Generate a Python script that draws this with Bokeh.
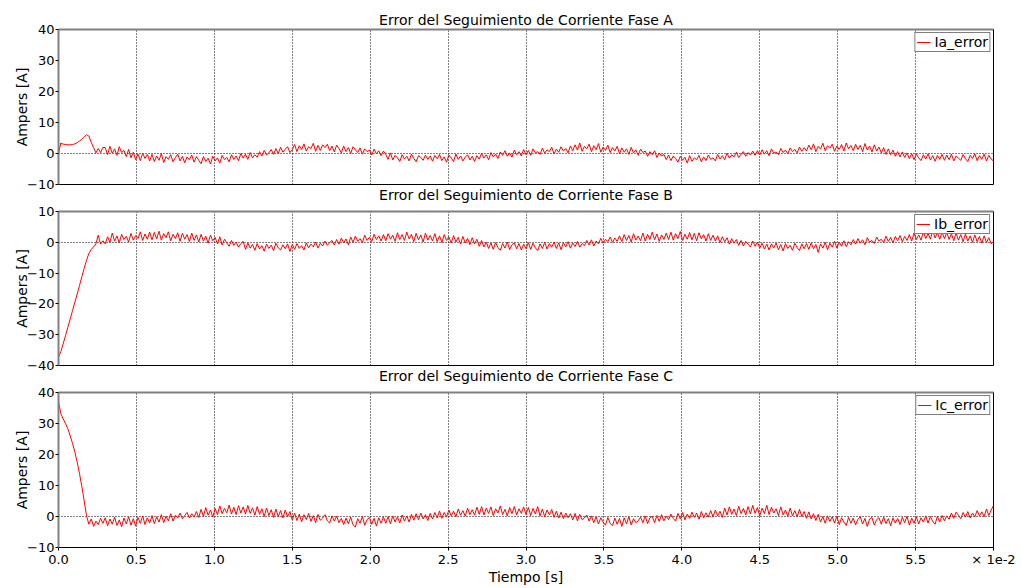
import numpy as np
from bokeh.plotting import figure
from bokeh.layouts import column
from bokeh.models import (Range1d, FixedTicker, LinearAxis, Legend, LegendItem,
                          CustomJSTickFormatter, Grid, Title)
from bokeh.embed import file_html
from bokeh.resources import INLINE

# ---------------- data ----------------
DT = 0.00015  # sample step [s]
x_ticks = [0.0, 0.005, 0.01, 0.015, 0.02, 0.025, 0.03, 0.035, 0.04, 0.045, 0.05, 0.055, 0.06]
y_ticks_ac = [-10, 0, 10, 20, 30, 40]
y_ticks_b = [-40, -30, -20, -10, 0, 10]

titles = ["Error del Seguimiento de Corriente Fase A",
          "Error del Seguimiento de Corriente Fase B",
          "Error del Seguimiento de Corriente Fase C"]
names = ["Ia_error", "Ib_error", "Ic_error"]

ia_error = [
    0, 3.4, 3.0, 2.9, 2.8, 2.8, 2.9, 3.1, 3.5, 4.0, 4.6, 5.3, 6.1, 5.6, 3.6, 1.9, 0.2, 1.6, 0.3, 2.0,
    1.9, -0.4, 2.3, 0.1, 1.5, -0.6, 2.2, 0.3, 1.0, -1.0, 1.3, -1.4, 0.4, -2.0, -0.2, -2.3, 0.1, -1.6, -0.3, -2.4,
    -0.3, -2.6, -0.8, -2.2, 0.0, -2.9, -1.0, -1.9, -0.4, -2.7, -1.3, -0.2, -2.4, -0.9, -3.0, -1.1, -2.0, -0.5, -2.8, -1.0,
    -2.2, -3.3, -1.0, -2.6, -1.5, -3.4, -0.9, -2.4, -1.4, -3.1, -0.6, -2.0, -1.3, -2.7, -0.4, -1.9, -0.8, -2.3, 0.0, -1.5,
    -0.2, -1.9, 0.3, -1.4, -0.4, -1.2, 0.6, -0.8, 1.0, -0.5, 0.2, 1.3, -0.3, 1.6, 0.0, 2.0, 0.4, 1.4, 2.2, 0.3,
    1.2, 2.9, 0.6, 2.5, 1.3, 3.1, 0.8, 2.2, 1.6, 3.3, 0.7, 2.6, 1.0, 2.8, 1.9, 3.0, 0.9, 2.4, 0.5, 2.7,
    1.6, 0.2, 2.4, 0.6, 1.9, 0.0, 2.2, 1.2, 0.3, 1.8, -0.2, 1.5, 0.6, 1.1, -0.5, 1.4, -0.1, 0.9, -0.7, 0.8,
    -0.3, -1.9, 0.2, -2.1, -0.6, -1.4, -2.6, -0.4, -1.8, -0.9, -2.4, -0.2, -1.6, -2.7, -0.7, -1.3, -2.2, -0.5, -1.9, -0.8,
    -2.5, -0.6, -1.7, -0.3, -2.3, -1.1, -2.8, -0.5, -1.4, -2.6, -0.2, -1.9, -0.8, -2.4, -1.2, -0.4, -2.1, -0.9, -2.6, -0.7,
    -1.8, 0.1, -1.5, -0.4, -2.0, 0.3, -1.1, -0.2, -1.6, 0.5, -0.6, 0.9, -0.9, 0.2, -1.2, 1.1, -0.4, 0.6, -0.8, 1.3,
    -0.4, 1.0, -0.6, 1.5, 0.2, 0.6, -0.3, 1.7, 0.1, 1.2, 0.6, 2.0, -0.1, 1.4, 0.4, 2.2, 0.8, 1.6, 0.2, 2.4,
    0.9, 2.8, 1.1, 3.4, 0.7, 2.3, 1.5, 3.0, 0.6, 2.5, 1.2, 3.2, 0.4, 2.1, 1.0, 2.7, 0.3, 1.9, 0.8, 2.3,
    -0.1, 1.8, 0.4, 1.5, -0.3, 2.0, 0.2, 1.2, -0.6, 1.4, 0.3, 0.8, -0.9, 0.6, -0.4, 0.9, -1.3, 0.2, -0.8, -0.3,
    -2.0, -0.5, -2.3, -0.8, -1.6, -2.8, -0.9, -2.2, -1.2, -3.1, -0.7, -2.5, -1.4, -2.0, -0.6, -2.7, -1.1, -2.3, -0.5, -1.9,
    -1.4, -2.4, -0.3, -1.8, -0.7, -2.0, 0.1, -1.5, -0.4, -1.1, 0.4, -1.3, -0.2, 0.6, -0.9, 0.3, -0.5, 0.8, -0.6, 0.9,
    -0.5, 1.2, -0.2, 0.9, -0.7, 1.5, 0.1, 0.5, -0.4, 1.6, 0.3, 1.1, -0.1, 1.8, 0.6, 1.3, 0.2, 2.1, 0.7, 1.9,
    0.8, 2.7, 1.2, 3.1, 0.6, 2.3, 1.4, 3.3, 0.9, 2.5, 1.7, 3.0, 0.7, 2.4, 1.3, 2.9, 0.8, 3.4, 1.5, 2.6,
    0.9, 3.0, 1.3, 2.6, 0.6, 3.2, 1.1, 2.4, 0.5, 2.8, 0.8, 2.1, 0.2, 1.9, -0.3, 1.5, -0.4, 1.1, -0.9, 0.6,
    -1.1, 0.5, -1.3, 0.2, -1.7, 0.0, -2.0, -0.2, -1.4, -2.3, -0.4, -1.8, -0.1, -2.1, -0.7, -2.5, -0.6, -1.9, -0.3, -2.2,
    -0.5, -2.0, -0.2, -2.4, -0.8, -1.5, -2.2, -0.3, -1.7, -2.6, -0.6, -1.6, -0.1, -2.3, -0.7, -1.9, -0.2, -2.4, -0.6, -1.8,
    -2.4,
]

ib_error = [
    -37.3, -35.5, -33.0, -30.3, -27.6, -24.9, -22.2, -19.5, -16.8, -14.0, -11.2, -8.4, -5.8, -3.6, -2.3, -1.5, -0.5, 2.3, -0.6, 0.5,
    -0.5, 1.8, 0.0, 3.0, 0.4, 2.1, -0.2, 2.6, 0.9, 1.9, 0.1, 2.9, 0.7, 2.2, 1.2, 3.4, 0.6, 2.7, 1.0, 3.3,
    0.8, 3.2, 1.1, 3.6, 0.7, 2.8, 1.5, 3.4, 0.5, 2.6, 1.2, 3.1, 0.3, 2.9, 1.0, 2.5, 0.2, 3.0, 0.6, 2.4,
    0.1, 2.6, 0.4, 2.0, -0.3, 2.3, 0.5, 1.6, -0.5, 1.8, -0.9, 1.0, -0.2, -1.3, 0.6, -1.0, 0.1, -1.6, -0.4, 0.3,
    -2.3, -0.2, -1.9, -0.7, -2.6, -0.4, -2.2, -1.1, -2.9, -0.6, -2.0, -0.9, -2.7, -0.3, -1.8, -2.5, -0.8, -2.1, -0.5, -3.0,
    -0.7, -2.3, -0.4, -2.0, -1.1, -2.5, -0.2, -1.8, -0.6, -1.5, 0.1, -1.9, -0.3, -1.2, 0.4, -1.0, -0.1, 0.6, -0.9, 0.9,
    -0.6, 1.4, -0.2, 1.1, -0.8, 1.7, 0.0, 2.0, 0.3, 1.2, -0.1, 2.3, 0.6, 1.6, 0.2, 2.6, 0.9, 2.1, 0.4, 2.5,
    0.5, 2.8, 1.0, 2.3, 0.3, 3.1, 0.9, 2.5, 0.6, 3.3, 1.1, 2.6, 0.2, 2.9, 0.8, 2.4, 0.1, 3.0, 0.7, 2.2,
    0.4, 2.8, 0.2, 2.1, -0.1, 2.5, 0.6, 1.8, -0.3, 2.2, 0.1, 1.6, -0.6, 1.9, -0.2, 1.3, -0.8, 1.5, -0.5, 1.0,
    -1.3, 0.6, -1.5, 0.0, -2.0, -0.2, -2.3, -0.1, -1.7, -2.6, -0.4, -1.9, 0.1, -2.4, -0.8, -0.2, -2.1, -0.4, -2.5, -0.6,
    -2.1, -0.1, -2.3, -0.3, -1.8, -2.7, -0.5, -2.0, 0.0, -2.2, -0.4, -1.6, 0.1, -2.0, -0.2, -2.4, -0.1, -1.5, 0.2, -1.9,
    -0.2, -1.4, 0.3, -1.6, -0.4, -1.1, 0.6, -0.9, 0.8, -1.2, 0.4, -0.5, 1.3, -0.3, 1.0, 0.2, 1.7, 0.0, 1.4, 0.3,
    2.1, 0.2, 2.5, 0.6, 2.2, 0.1, 2.8, 0.7, 2.0, 0.5, 3.0, 0.4, 2.6, 0.9, 3.3, 0.8, 2.7, 0.3, 2.4, 0.9,
    3.0, 0.9, 3.3, 0.7, 2.8, 1.2, 3.5, 0.6, 2.6, 1.0, 3.2, 0.8, 2.9, 0.5, 3.1, 1.1, 2.5, 0.4, 2.8, 0.6,
    2.3, 0.4, 2.1, -0.1, 1.8, 0.2, 1.5, -0.6, 1.2, -0.3, 0.9, -1.0, 0.6, -1.2, 0.3, -0.6, -1.5, 0.4, -1.3, 0.1,
    -1.9, -0.3, -2.2, -0.6, -2.5, -0.5, -1.8, -0.2, -2.4, -0.7, -2.8, -0.4, -2.0, -1.0, -2.6, -0.3, -1.7, -2.7, -0.5, -2.1,
    -0.4, -2.3, -0.2, -2.1, -0.7, -3.3, -0.5, -1.9, 0.0, -2.4, -0.3, -1.6, 0.3, -1.9, 0.1, -1.3, 0.5, -1.4, 0.2, -0.8,
    0.9, -0.6, 1.2, -0.3, 0.8, -0.8, 1.5, 0.1, 0.6, -0.4, 1.7, 0.4, 1.0, -0.1, 2.0, 0.3, 1.6, -0.2, 1.9, 0.5,
    2.2, 0.2, 1.9, 0.6, 2.5, 0.4, 3.0, 0.9, 2.4, 0.7, 3.5, 1.2, 2.9, 1.0, 3.8, 1.4, 3.1, 1.0, 3.3, 1.2,
    3.2, 0.9, 2.8, 0.5, 3.0, 0.7, 2.5, 0.2, 2.7, 0.4, 2.1, 0.0, 2.4, 0.2, 1.9, -0.3, 2.1, -0.1, 1.5, -0.5,
    0.3,
]

ic_error = [
    37.0, 33.2, 31.5, 30.0, 28.3, 26.0, 23.6, 20.8, 17.5, 13.8, 9.6, 5.0, 0.2, -2.5, -0.8, -3.2, -1.5, -2.6, -0.6, -2.2,
    -0.4, -3.0, -0.8, -2.5, -0.2, -2.9, -1.1, -3.3, -0.5, -2.4, -0.1, -2.8, -0.7, -3.1, -0.3, -2.2, 0.2, -2.6, -0.4, -2.1,
    0.3, -2.3, -0.1, -1.8, 0.6, -2.0, 0.1, -1.4, 0.9, -1.5, 0.4, -0.4, 1.1, -0.7, 0.3, 1.3, -0.5, 0.9, -0.2, 1.6,
    -0.3, 2.3, 0.0, 2.9, 0.4, 2.1, -0.2, 2.6, 0.6, 3.4, 0.9, 2.6, 1.2, 3.7, 0.8, 3.0, 0.6, 3.5, 1.1, 3.1,
    0.8, 3.6, 1.0, 2.8, 0.4, 3.2, 0.7, 2.5, 0.0, 2.7, 0.3, 2.2, -0.3, 2.4, 0.0, 1.9, -0.5, 2.1, -0.1, 1.6,
    -1.1, 1.1, -1.3, 0.8, -1.7, 0.6, -1.0, 1.0, -1.6, 0.3, -2.0, 0.7, -1.2, -0.5, 0.6, -1.4, -2.1, 0.2, -1.5, 0.1,
    -2.0, -0.6, -2.6, -0.5, -2.3, -0.2, -2.7, -3.4, -0.7, -2.2, 0.0, -2.8, -1.0, -0.3, -2.5, -0.6, -3.1, -0.4, -2.2, -0.1,
    -2.2, 0.0, -2.4, 0.2, -1.8, -0.1, -2.1, 0.5, -1.5, 0.2, -1.8, 0.7, -1.2, 0.9, -1.0, 1.1, -0.8, 0.6, -1.3, 1.0,
    -0.8, 1.3, -0.5, 1.8, -0.6, 1.3, -0.1, 2.1, 0.2, 1.7, -0.1, 2.4, 0.4, 1.9, 0.1, 2.7, 0.6, 2.2, 0.4, 3.0,
    0.7, 3.2, 0.5, 2.7, 1.0, 3.1, 0.3, 2.5, 1.1, 3.4, 0.6, 2.3, 0.2, 2.9, 0.9, 3.2, 0.5, 2.5, 1.0, 3.1,
    0.6, 2.9, 0.3, 2.6, 0.8, 3.2, 0.2, 2.4, -0.1, 2.1, 0.5, 2.3, -0.3, 1.7, -0.5, 1.4, -0.7, 1.1, -0.4, 0.9,
    -1.1, 1.0, -1.4, 0.7, -1.0, -0.5, 0.5, -1.5, 0.2, -2.0, -0.1, -2.4, -0.4, -1.8, -2.8, -0.3, -2.2, -3.0, -0.5, -2.5,
    -0.6, -3.2, -0.4, -2.4, -0.1, -2.7, -0.7, -2.0, -1.4, -0.2, -2.0, 0.2, -2.3, -0.4, 0.1, -2.0, 0.3, -1.6, 0.6, -1.4,
    0.1, -1.0, 0.8, -0.6, -1.5, 1.0, -0.8, 1.3, -1.1, 0.8, -0.6, 1.4, -0.3, 1.1, -0.9, 1.6, -0.4, 1.2, -0.2, 1.9,
    -0.1, 2.1, 0.2, 1.7, -0.3, 2.7, 0.5, 3.1, 0.7, 2.4, 0.3, 3.3, 0.9, 2.6, 0.5, 3.2, 0.8, 3.6, 1.0, 2.9,
    0.2, 2.7, 0.9, 3.6, 0.6, 3.0, 1.1, 2.5, 0.3, 3.1, 0.5, 2.1, 0.1, 2.7, 0.2, 1.9, -0.1, 2.3, 0.0, 1.6,
    -0.6, 1.5, -0.8, 0.9, -1.3, 0.7, -1.8, 0.0, -2.2, 0.2, -1.6, -0.1, -2.1, 0.1, -2.6, -0.4, -1.8, -2.9, -0.3, -2.2,
    -0.5, -2.7, -0.9, -0.1, -2.4, -0.6, -3.2, -0.8, -0.3, -2.8, -1.0, -0.4, -2.5, -0.2, -2.3, -0.7, -3.0, -0.4, -2.1, -0.6,
    -2.6, -0.3, -2.0, 0.1, -2.8, -0.5, -2.2, -0.1, -2.4, -0.4, -1.8, 0.2, -2.1, 0.0, -1.6, -2.5, 0.1, -1.8, 0.3, -1.4,
    0.2, -0.9, 1.1, -0.6, 1.4, 0.4, -0.7, 1.3, -0.2, 1.6, -0.5, 1.1, -0.1, 1.9, 0.2, 1.5, 0.0, 2.4, 0.3, 2.1,
    3.5,
]

# ---------------- styling ----------------
FONT = "DejaVu Sans"
RED = "#ff0000"
GRAY = "#808080"
TITLE_SIZE = "14px"


def make_title(text, standoff):
    return Title(text=text, align="center", text_font=FONT, text_font_size=TITLE_SIZE,
                 text_font_style="normal", text_color="black", standoff=standoff)


def make_panel(series, name, y_lo, y_hi, y_ticks, frame_h, top, bottom, with_x,
               title_above=None, title_below=None):
    p = figure(frame_width=935, frame_height=frame_h, title=None,
               x_range=Range1d(0, 0.06), y_range=Range1d(y_lo, y_hi),
               x_axis_type=None, y_axis_type=None,
               output_backend="svg", toolbar_location=None,
               min_border_left=58, min_border_right=28,
               min_border_top=top, min_border_bottom=bottom)
    p.outline_line_color = None
    p.background_fill_color = "white"
    p.border_fill_color = "white"

    # grids (dotted)
    xg = Grid(dimension=0, ticker=FixedTicker(ticks=x_ticks),
              grid_line_color="black", grid_line_dash="1 2", grid_line_width=1)
    yg = Grid(dimension=1, ticker=FixedTicker(ticks=[0]),
              grid_line_color="black", grid_line_dash="1 2", grid_line_width=1)
    p.add_layout(xg, "center")
    p.add_layout(yg, "center")

    t = np.arange(len(series)) * DT
    r = p.line(t, series, line_color=RED, line_width=1)

    # left axis
    left = LinearAxis(ticker=FixedTicker(ticks=y_ticks), axis_label="Ampers [A]",
                      axis_label_text_font=FONT, axis_label_text_font_size="14px",
                      axis_label_text_font_style="normal", axis_label_standoff=-6,
                      axis_label_text_color="black",
                      major_label_text_font=FONT, major_label_text_font_size="13px",
                      major_label_text_color="black", major_label_standoff=1,
                      major_tick_out=3, major_tick_in=0, minor_tick_out=0, minor_tick_in=0,
                      major_tick_line_color="black",
                      axis_line_color=GRAY, axis_line_width=2)
    p.add_layout(left, "left")

    # top / right frame lines
    top_ax = LinearAxis(ticker=FixedTicker(ticks=[]), major_label_text_font_size="0px",
                        major_label_standoff=0, major_tick_out=0, major_tick_in=0,
                        minor_tick_out=0, minor_tick_in=0,
                        axis_line_color=GRAY, axis_line_width=2)
    p.add_layout(top_ax, "above")
    right_ax = LinearAxis(ticker=FixedTicker(ticks=[]), major_label_text_font_size="0px",
                          major_label_standoff=0, major_tick_out=0, major_tick_in=0,
                          minor_tick_out=0, minor_tick_in=0,
                          axis_line_color="black", axis_line_width=1)
    p.add_layout(right_ax, "right")

    if with_x:
        fmt = CustomJSTickFormatter(code="""
            if (Math.abs(tick - 0.06) < 1e-9) { return '\u00d7 1e-2'; }
            return (tick * 100).toFixed(1);
        """)
        bottom_ax = LinearAxis(ticker=FixedTicker(ticks=x_ticks), formatter=fmt,
                               axis_label="Tiempo [s]",
                               axis_label_text_font=FONT, axis_label_text_font_size="14px",
                               axis_label_text_font_style="normal", axis_label_standoff=-1,
                               axis_label_text_color="black",
                               major_label_text_font=FONT, major_label_text_font_size="13px",
                               major_label_text_color="black", major_label_standoff=1,
                               major_tick_out=3, major_tick_in=0, minor_tick_out=0, minor_tick_in=0,
                               axis_line_color="black", axis_line_width=1)
    else:
        bottom_ax = LinearAxis(ticker=FixedTicker(ticks=[]), major_label_text_font_size="0px",
                               major_label_standoff=0, major_tick_out=0, major_tick_in=0,
                               minor_tick_out=0, minor_tick_in=0,
                               axis_line_color="black", axis_line_width=1)
    p.add_layout(bottom_ax, "below")

    if title_above is not None:
        p.add_layout(make_title(title_above, 3), "above")
    if title_below is not None:
        p.add_layout(make_title(title_below, 1), "below")

    legend = Legend(items=[LegendItem(label=name, renderers=[r])], location="top_right",
                    border_line_color="black", border_line_width=1,
                    background_fill_color="white", background_fill_alpha=1.0,
                    padding=1, margin=3, spacing=0,
                    glyph_width=14, glyph_height=14, label_height=14,
                    label_standoff=4, label_text_font=FONT, label_text_font_size="14px",
                    label_text_color="black")
    p.add_layout(legend, "center")
    return p


p1 = make_panel(ia_error, names[0], -10, 40, y_ticks_ac, 155, 29, 0, False,
                title_above=titles[0], title_below=titles[1])
p2 = make_panel(ib_error, names[1], -40, 10, y_ticks_b, 154, 8, 0, False,
                title_below=titles[2])
p3 = make_panel(ic_error, names[2], -10, 40, y_ticks_ac, 155, 8, 39, True)

layout = column(p1, p2, p3, spacing=0)

with open("out.html", "w") as f:
    f.write(file_html(layout, INLINE))
